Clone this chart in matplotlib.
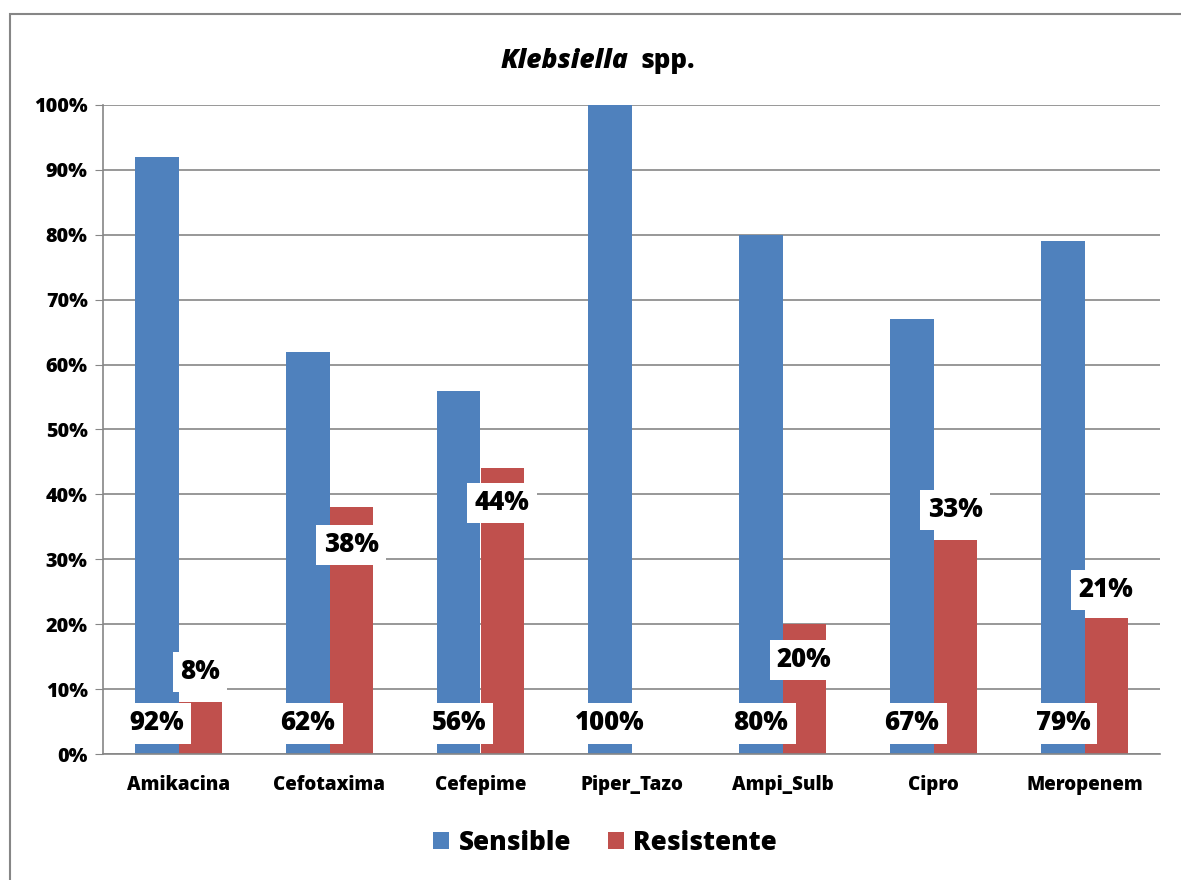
import matplotlib.pyplot as plt
import numpy as np
from matplotlib.patches import Rectangle

# chart data
categories = ["Amikacina", "Cefotaxima", "Cefepime", "Piper_Tazo", "Ampi_Sulb", "Cipro", "Meropenem"]
sensible = [92, 62, 56, 100, 80, 67, 79]
resistente = [8, 38, 44, 0, 20, 33, 21]
y_ticks = [0, 10, 20, 30, 40, 50, 60, 70, 80, 90, 100]

# label placement (layout only)
sens_label_y = 4.7
res_label_y = [12.6, 32.2, 38.7, None, 14.5, 37.6, 25.3]

plt.rcParams['font.family'] = ['Open Sans', 'DejaVu Sans']
WEIGHT = 800
plt.rcParams['font.weight'] = WEIGHT

BLUE = '#4F81BD'
RED = '#C0504D'
GRID = '#868686'

fig = plt.figure(figsize=(11.81, 8.80), dpi=100)
ax = fig.add_axes([103 / 1181, 1 - 754 / 880, (1160 - 103) / 1181, (754 - 105) / 880])

x = np.arange(len(categories))
w = 0.285
ax.bar(x - w / 2, sensible, w, color=BLUE, label='Sensible', zorder=2)
ax.bar(x + w / 2, resistente, w, color=RED, label='Resistente', zorder=2)

box = dict(facecolor='white', edgecolor='none', boxstyle='square,pad=0.28')
for i, v in enumerate(sensible):
    ax.text(x[i] - w / 2, sens_label_y, f"{v}%", ha='center', va='center',
            fontsize=18.5, fontweight=WEIGHT, bbox=box, zorder=4)
for i, v in enumerate(resistente):
    if res_label_y[i] is None:
        continue
    ax.text(x[i] + w / 2, res_label_y[i], f"{v}%", ha='center', va='center',
            fontsize=18.5, fontweight=WEIGHT, bbox=box, zorder=4)

ax.set_xlim(-0.5, len(categories) - 0.5)
ax.set_ylim(0, 100)
ax.set_yticks(y_ticks)
ax.set_yticklabels([f"{t}%" for t in y_ticks], fontsize=14.2, fontweight=WEIGHT)
ax.set_xticks(x)
ax.set_xticklabels(categories, fontsize=13.5, fontweight=WEIGHT)
ax.tick_params(axis='x', length=0, pad=15)
ax.tick_params(axis='y', length=6, color=GRID, pad=5)
ax.yaxis.grid(True, color=GRID, linewidth=1.2, zorder=0)
ax.set_axisbelow(True)
for s in ['top', 'right']:
    ax.spines[s].set_visible(False)
for s in ['left', 'bottom']:
    ax.spines[s].set_color(GRID)
    ax.spines[s].set_linewidth(1.2)

# title: italic genus + plain "spp."
fig.text(628 / 1181, 1 - 61 / 880, "Klebsiella", ha='right', va='center',
         fontsize=19, fontweight=WEIGHT, style='italic')
fig.text(640 / 1181, 1 - 61 / 880, "spp.", ha='left', va='center',
         fontsize=18.5, fontweight=WEIGHT)

fig.legend(loc='center', bbox_to_anchor=(605 / 1181, 1 - 843 / 880), ncol=2,
           frameon=False, fontsize=18.8, handlelength=0.62, handleheight=0.62,
           handletextpad=0.35, columnspacing=1.4)

# outer chart frame
fig.patches.append(Rectangle((10 / 1181, -0.05), 1.1, 1 - 14 / 880 + 0.05,
                             transform=fig.transFigure, fill=False,
                             edgecolor=GRID, linewidth=1.5))

fig.savefig('out.png', dpi=100)
